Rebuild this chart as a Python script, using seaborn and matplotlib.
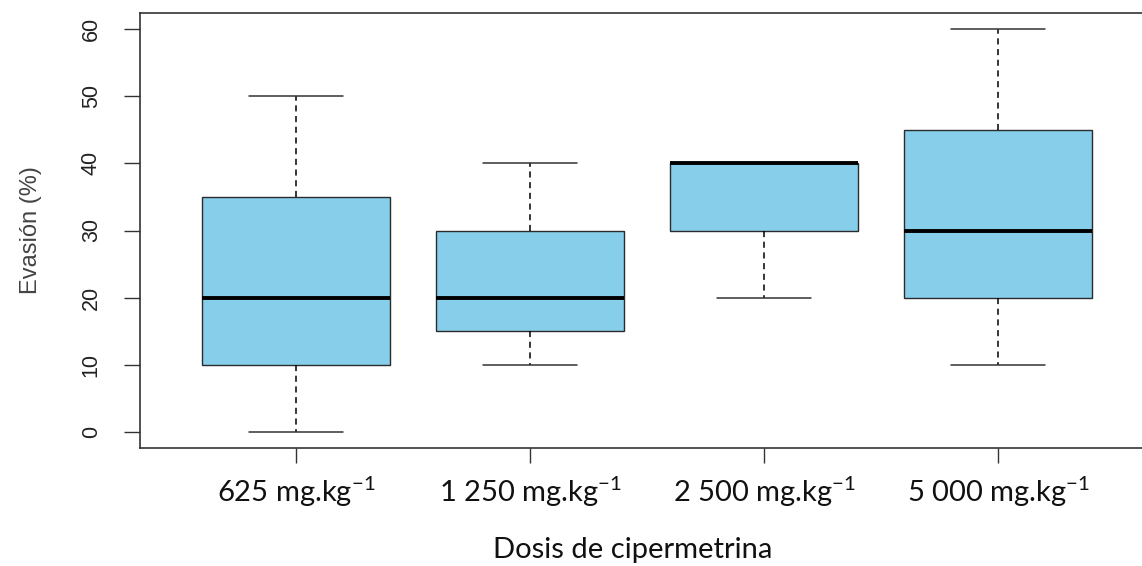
import matplotlib
matplotlib.use("Agg")
import matplotlib.pyplot as plt
import seaborn as sns
import pandas as pd

# ---- data (reconstructed observations reproducing the five-number summaries) ----
categories = ["625 mg.kg$^{-1}$", "1 250 mg.kg$^{-1}$", "2 500 mg.kg$^{-1}$", "5 000 mg.kg$^{-1}$"]
dose_625 = [0, 10, 20, 35, 50]
dose_1250 = [10, 15, 20, 30, 40]
dose_2500 = [20, 30, 40, 40, 40]
dose_5000 = [10, 20, 30, 45, 60]
y_ticks = [0, 10, 20, 30, 40, 50, 60]
x_label = "Dosis de cipermetrina"
y_label = "Evasión (%)"

groups = [dose_625, dose_1250, dose_2500, dose_5000]
df = pd.DataFrame({
    "dosis": [c for c, g in zip(categories, groups) for _ in g],
    "evasion": [v for g in groups for v in g],
})

sns.set_style("ticks")
plt.rcParams["font.family"] = ["Liberation Sans", "DejaVu Sans"]
plt.rcParams["mathtext.fontset"] = "custom"
plt.rcParams["mathtext.rm"] = "Lato"
plt.rcParams["mathtext.it"] = "Lato:italic"
plt.rcParams["mathtext.bf"] = "Lato:bold"

W, H = 1142, 566
fig = plt.figure(figsize=(W / 100, H / 100), dpi=100)
ax = fig.add_axes([140 / W, (H - 448) / H, 1014 / W, 435 / H])

sns.boxplot(
    data=df, x="dosis", y="evasion", order=categories, ax=ax,
    color="#87CEEB", saturation=1, width=0.8, linewidth=1.0, linecolor="#2b2b2b",
    medianprops=dict(color="black", linewidth=2.8, solid_capstyle="butt"),
    whiskerprops=dict(color="black", linestyle=(0, (4, 3)), linewidth=1.1),
    capprops=dict(color="#333333", linewidth=1.1),
    showfliers=False,
)

ax.set_xlim(-0.667, 3.667)
ax.set_ylim(-2.4, 62.4)
ax.set_yticks(y_ticks)
ax.set_yticklabels([str(t) for t in y_ticks], rotation=90, va="center",
                   fontsize=15.5, color="#222222")
ax.tick_params(axis="y", length=11.5, width=1.0, pad=16, colors="#333333", labelcolor="#222222")
ax.tick_params(axis="x", length=11, width=1.0, pad=8, colors="#333333", labelcolor="#111111")
for lab in ax.get_xticklabels():
    lab.set_fontfamily("Lato")
    lab.set_fontsize(21)

for s in ["left", "top", "bottom", "right"]:
    ax.spines[s].set_linewidth(1.2)
    ax.spines[s].set_color("#333333")

ax.set_xlabel(x_label, fontsize=21, family="Lato", color="#111111", va="baseline")
ax.xaxis.set_label_coords((633 - 140) / 1014, (448 - 558) / 435)
ax.set_ylabel(y_label, fontsize=17, color="#444444")
ax.yaxis.set_label_coords((42 - 140) / 1014, 0.5)

fig.savefig("out.png", dpi=100)
